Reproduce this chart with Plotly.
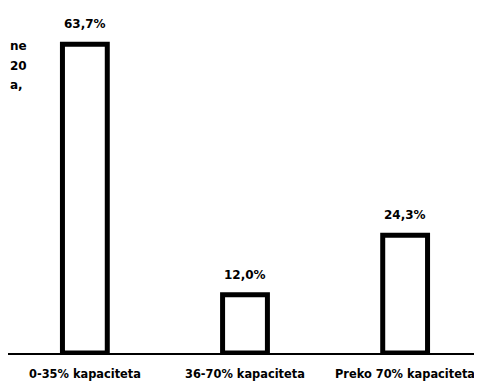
import plotly.graph_objects as go

kategorije = ['0-35% kapaciteta', '36-70% kapaciteta', 'Preko 70% kapaciteta']
udjeli = [63.7, 12.0, 24.3]
oznake = ['63,7%', '12,0%', '24,3%']
ostaci_naslova = ['ne', '20', 'a,']

font_bold = 'DejaVu Sans, sans-serif'

fig = go.Figure()
fig.add_trace(go.Bar(x=kategorije, y=udjeli, width=0.28,
                     marker=dict(color='white', line=dict(color='black', width=5)),
                     cliponaxis=False, showlegend=False))

for k, v, t in zip(kategorije, udjeli, oznake):
    fig.add_annotation(x=k, y=v, text=f'<b>{t}</b>', showarrow=False, yshift=20, yanchor='middle',
                       font=dict(family=font_bold, size=12, color='black'))
    fig.add_annotation(x=k, yref='paper', y=0, text=f'<b>{k}</b>', showarrow=False, yshift=-21,
                       yanchor='middle', font=dict(family=font_bold, size=11.4, color='black'))

for i, t in enumerate(ostaci_naslova):
    fig.add_annotation(xref='paper', yref='paper', x=0, y=0.89 - i * 0.057, text=f'<b>{t}</b>',
                       showarrow=False, xanchor='left', yanchor='middle',
                       font=dict(family=font_bold, size=12, color='black'))

# stranica ima 8px margine, pa je figura malo manja od prozora
fig.update_layout(width=474, height=374, margin=dict(l=0, r=0, t=0, b=29, autoexpand=False),
                  paper_bgcolor='white', plot_bgcolor='white',
                  font=dict(family=font_bold, size=12, color='black'))
fig.update_xaxes(range=[-0.48, 2.48], showline=True, linecolor='black', linewidth=1.5, ticks='',
                 showticklabels=False, automargin=False)
fig.update_yaxes(range=[0, 71.2], visible=False, showgrid=False, zeroline=False, automargin=False)

fig.write_html('out.html')
